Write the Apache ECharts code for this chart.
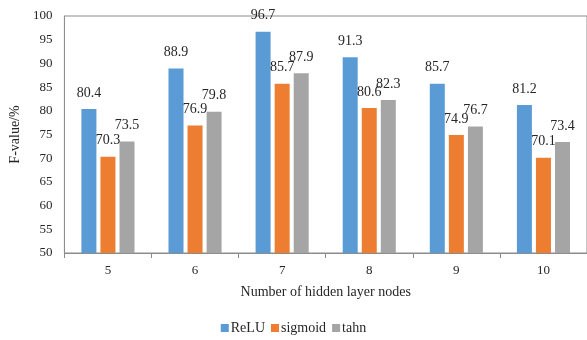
<!DOCTYPE html>
<html>
<head>
<meta charset="utf-8">
<script src="https://cdn.jsdelivr.net/npm/echarts@6/dist/echarts.min.js"></script>
<style>html,body{margin:0;padding:0;background:#fff;}#c{width:587px;height:340px;}</style>
</head>
<body>
<div id="c"></div>
<script>
const categories = ['5', '6', '7', '8', '9', '10'];
const reluValues = [80.4, 88.9, 96.7, 91.3, 85.7, 81.2];
const sigmoidValues = [70.3, 76.9, 85.7, 80.6, 74.9, 70.1];
const tahnValues = [73.5, 79.8, 87.9, 82.3, 76.7, 73.4];
const seriesNames = ['ReLU', 'sigmoid', 'tahn'];

const font = 'Liberation Serif, Times New Roman, serif';
const txt = '#262626';
const chart = echarts.init(document.getElementById('c'), null, {renderer: 'canvas'});
const colors = ['#5b9bd5', '#ed7d31', '#a5a5a5'];
const mk = (name, data, i) => ({
  name, type: 'bar', data, barWidth: 15, barGap: '27%',
  itemStyle: {color: colors[i]},
  label: {show: true, position: 'top', distance: 9, fontFamily: font, fontSize: 14, color: txt},
  animation: false
});
chart.setOption({
  animation: false,
  color: colors,
  grid: {left: 62, top: 16, width: 534, height: 237, show: true, borderColor: '#8c8c8c', borderWidth: 1},
  legend: {
    data: seriesNames, top: 316, left: 'center', itemWidth: 8, itemHeight: 8, itemGap: 6,
    icon: 'rect', textStyle: {fontFamily: font, fontSize: 14, color: txt, padding: [0, 0, 0, -3]}
  },
  xAxis: {
    type: 'category', data: categories,
    name: 'Number of hidden layer nodes', nameLocation: 'middle', nameGap: 32,
    nameTextStyle: {fontFamily: font, fontSize: 14, color: txt},
    axisLine: {lineStyle: {color: '#8c8c8c'}},
    axisTick: {show: true, alignWithLabel: false, length: 5, lineStyle: {color: '#8c8c8c'}},
    axisLabel: {fontFamily: font, fontSize: 13, color: txt, margin: 11}
  },
  yAxis: {
    type: 'value', min: 50, max: 100, interval: 5,
    name: 'F-value/%', nameLocation: 'middle', nameGap: 37, nameRotate: 90,
    nameTextStyle: {fontFamily: font, fontSize: 14, color: txt},
    axisLine: {show: true, lineStyle: {color: '#8c8c8c'}},
    axisTick: {show: false},
    splitLine: {show: false},
    axisLabel: {fontFamily: font, fontSize: 13, color: txt, margin: 12}
  },
  series: [mk(seriesNames[0], reluValues, 0), mk(seriesNames[1], sigmoidValues, 1), mk(seriesNames[2], tahnValues, 2)]
});
</script>
</body>
</html>
